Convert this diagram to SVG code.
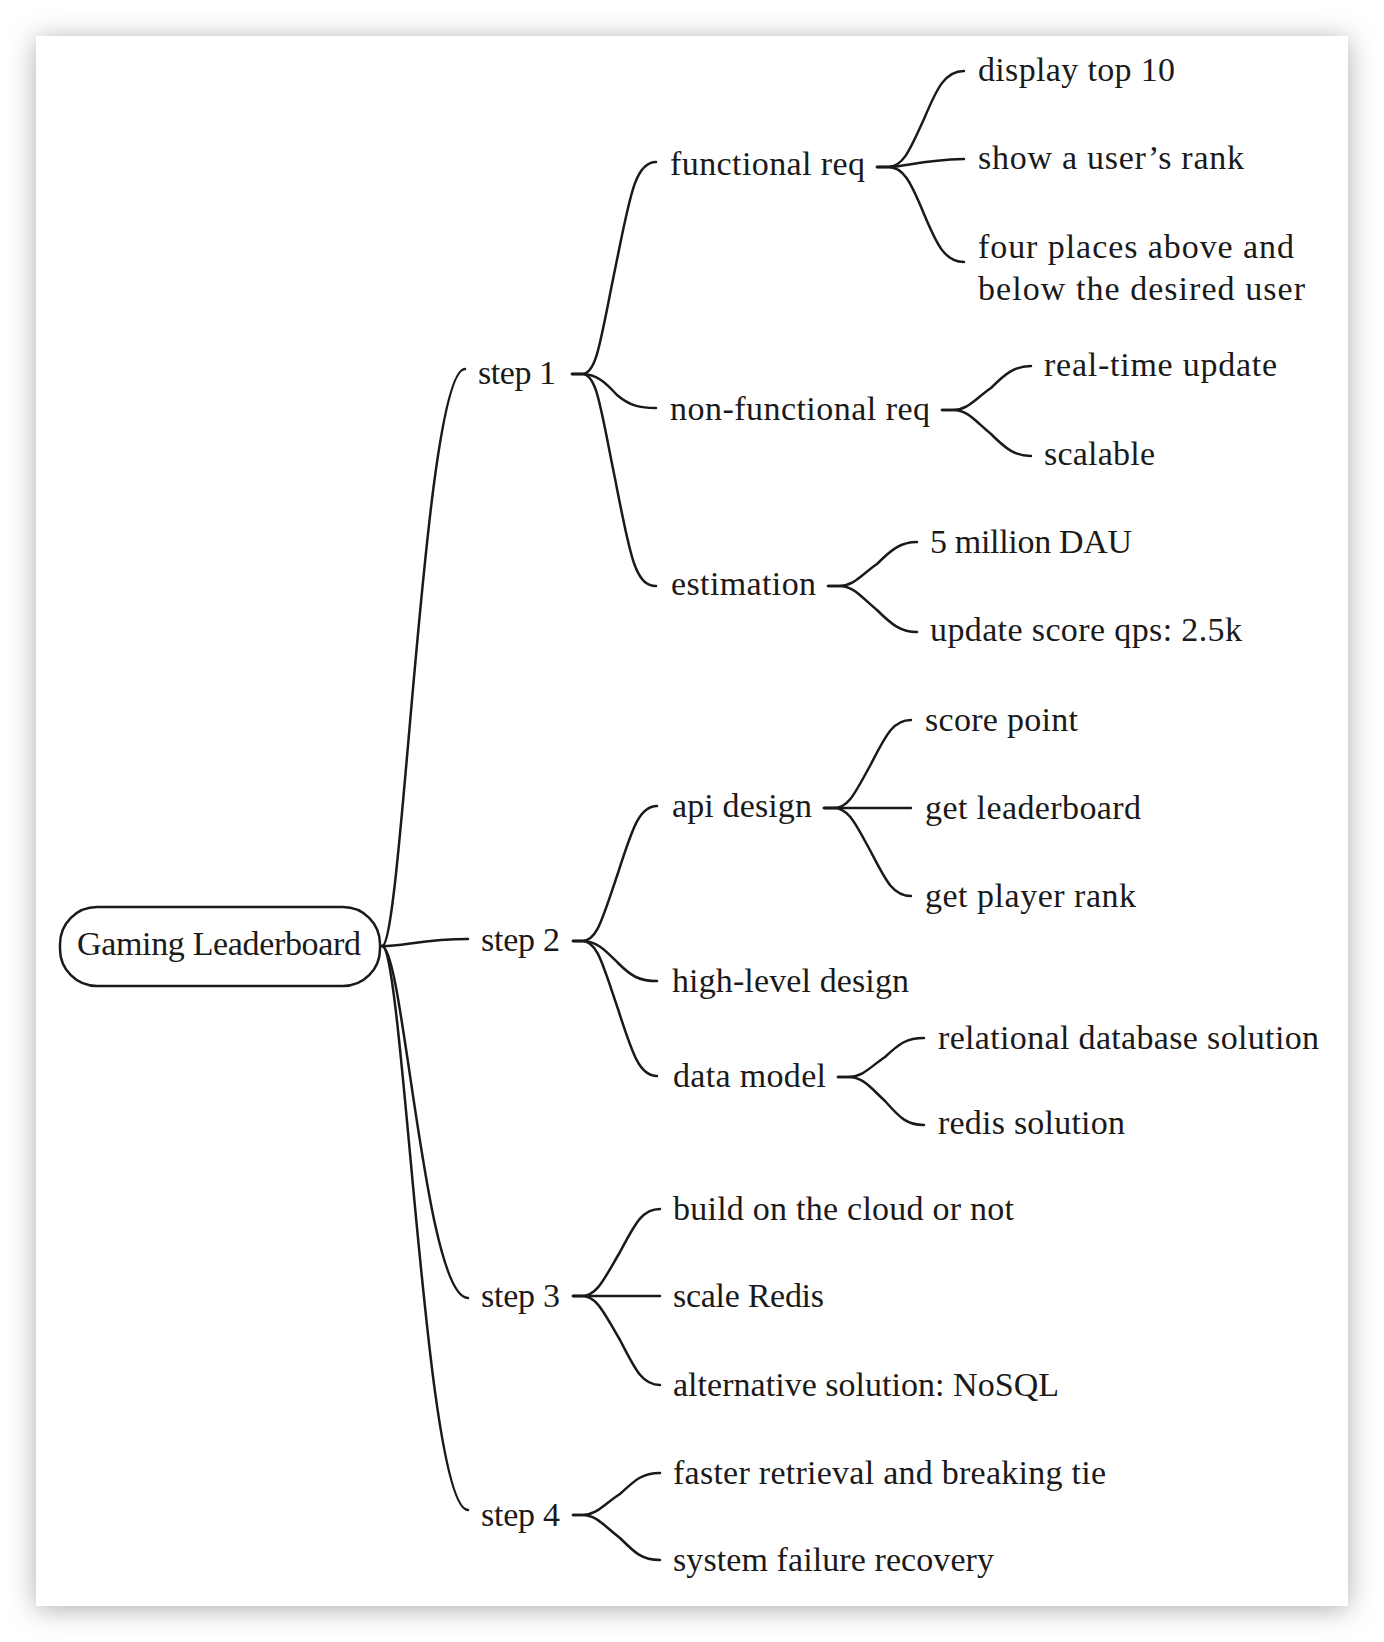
<svg xmlns="http://www.w3.org/2000/svg" width="1384" height="1642" viewBox="0 0 1384 1642">
<defs>
<filter id="shadow" x="-10%" y="-10%" width="120%" height="120%">
<feDropShadow dx="0" dy="3" stdDeviation="14" flood-color="#000" flood-opacity="0.32"/>
</filter>
<style>
text{font-family:"Liberation Serif","Times New Roman",serif;font-size:34px;fill:#1a1a1a}
.c path{fill:none;stroke:#1a1a1a;stroke-width:2.5;stroke-linecap:round;stroke-linejoin:round}
.box{fill:#fff;stroke:#1a1a1a;stroke-width:2.5}
</style>
</defs>
<rect x="0" y="0" width="1384" height="1642" fill="#fff"/>
<rect x="36" y="36" width="1312" height="1570" fill="#fff" filter="url(#shadow)"/>
<g class="c" id="connectors">
<path d="M382 946 C402.75 946,423.5 369,465 369"/>
<path d="M382 946 C403.5 946,425 939,468 939"/>
<path d="M382 946 C403.5 946,425 1298,468 1298"/>
<path d="M382 946 C403.5 946,425 1510,468 1510"/>
<path d="M572 374 H582 C596.8 374,600 342.2,615.3 268 C630 196,635 162,656 162"/>
<path d="M572 374 H582 C596.8 374,606 383,617 395 C630 406,640 408,656 408"/>
<path d="M572 374 H582 C596.8 374,600 405,615.3 480 C630 555,635 586,656 586"/>
<path d="M877 167 H888 C903 167,910 150,924 119 C937 88,945 71,964 71"/>
<path d="M877 167 H888 C905 167,920 160,964 159"/>
<path d="M877 167 H888 C903 167,910 180,924 214 C937 245,945 262,964 262"/>
<path d="M942 410 H953 C968 410,975 399,991 388 C1006 373,1015 366,1031 366"/>
<path d="M942 410 H953 C968 410,975 421,991 434 C1006 449,1015 456,1031 456"/>
<path d="M828 586 H839 C854 586,861 575,877 564 C892 549,901 542,917 542"/>
<path d="M828 586 H839 C854 586,861 597,877 610 C892 625,901 632,917 632"/>
<path d="M573 941 H582 C597 941,602 920,618 873 C633 826,640 806,657 806"/>
<path d="M573 941 H582 C597 941,605 950,618 963 C632 977,640 981,657 981"/>
<path d="M573 941 H582 C597 941,602 962,618 1009 C633 1056,640 1076,657 1076"/>
<path d="M824 808 H834 C849 808,856 791,871 764 C886 735,893 720,911 720"/>
<path d="M824 808 H834 C850 808,870 808,911 808"/>
<path d="M824 808 H834 C849 808,856 825,871 852 C886 881,893 896,911 896"/>
<path d="M838 1077 H848 C863 1077,870 1067,885 1057 C900 1043,907 1038,924 1038"/>
<path d="M838 1077 H848 C863 1077,870 1087,885 1101 C900 1118,907 1125,924 1125"/>
<path d="M573 1296 H582 C597 1296,604 1279,620 1252 C635 1224,642 1209,660 1209"/>
<path d="M573 1296 H582 C600 1296,620 1296,660 1296"/>
<path d="M573 1296 H582 C597 1296,604 1313,620 1340 C635 1369,642 1385,660 1385"/>
<path d="M573 1515 H582 C597 1515,604 1504,620 1494 C635 1480,642 1473,660 1473"/>
<path d="M573 1515 H582 C597 1515,604 1526,620 1538 C635 1553,642 1560,660 1560"/>
</g>
<g id="root"><rect class="box" x="60" y="907" width="320" height="79" rx="37"/><text x="77" y="955" textLength="284" lengthAdjust="spacing">Gaming Leaderboard</text></g>
<g id="step1"><text x="478" y="384" textLength="78" lengthAdjust="spacing">step 1</text></g>
<g id="functional"><text x="670" y="175" textLength="195" lengthAdjust="spacing">functional req</text></g>
<g id="display"><text x="978" y="81" textLength="197" lengthAdjust="spacing">display top 10</text></g>
<g id="showrank"><text x="978" y="169" textLength="266" lengthAdjust="spacing">show a user’s rank</text></g>
<g id="fourplaces"><text x="978" y="258" textLength="316" lengthAdjust="spacing">four places above and</text><text x="978" y="300" textLength="327" lengthAdjust="spacing">below the desired user</text></g>
<g id="nonfunctional"><text x="670" y="420" textLength="260" lengthAdjust="spacing">non-functional req</text></g>
<g id="realtime"><text x="1044" y="376" textLength="233" lengthAdjust="spacing">real-time update</text></g>
<g id="scalable"><text x="1044" y="465" textLength="111" lengthAdjust="spacing">scalable</text></g>
<g id="estimation"><text x="671" y="595" textLength="145" lengthAdjust="spacing">estimation</text></g>
<g id="dau"><text x="930" y="553" textLength="202" lengthAdjust="spacing">5 million DAU</text></g>
<g id="qps"><text x="930" y="641" textLength="312" lengthAdjust="spacing">update score qps: 2.5k</text></g>
<g id="step2"><text x="481" y="951" textLength="79" lengthAdjust="spacing">step 2</text></g>
<g id="api"><text x="672" y="817" textLength="140" lengthAdjust="spacing">api design</text></g>
<g id="scorepoint"><text x="925" y="731" textLength="153" lengthAdjust="spacing">score point</text></g>
<g id="getleader"><text x="925" y="819" textLength="216" lengthAdjust="spacing">get leaderboard</text></g>
<g id="getrank"><text x="925" y="907" textLength="211" lengthAdjust="spacing">get player rank</text></g>
<g id="highlevel"><text x="672" y="992" textLength="237" lengthAdjust="spacing">high-level design</text></g>
<g id="datamodel"><text x="673" y="1087" textLength="153" lengthAdjust="spacing">data model</text></g>
<g id="relational"><text x="938" y="1049" textLength="381" lengthAdjust="spacing">relational database solution</text></g>
<g id="redis"><text x="938" y="1134" textLength="187" lengthAdjust="spacing">redis solution</text></g>
<g id="step3"><text x="481" y="1307" textLength="79" lengthAdjust="spacing">step 3</text></g>
<g id="cloud"><text x="673" y="1220" textLength="341" lengthAdjust="spacing">build on the cloud or not</text></g>
<g id="scaleredis"><text x="673" y="1307" textLength="151" lengthAdjust="spacing">scale Redis</text></g>
<g id="nosql"><text x="673" y="1396" textLength="386" lengthAdjust="spacing">alternative solution: NoSQL</text></g>
<g id="step4"><text x="481" y="1526" textLength="79" lengthAdjust="spacing">step 4</text></g>
<g id="faster"><text x="673" y="1484" textLength="433" lengthAdjust="spacing">faster retrieval and breaking tie</text></g>
<g id="failure"><text x="673" y="1571" textLength="321" lengthAdjust="spacing">system failure recovery</text></g>
</svg>
